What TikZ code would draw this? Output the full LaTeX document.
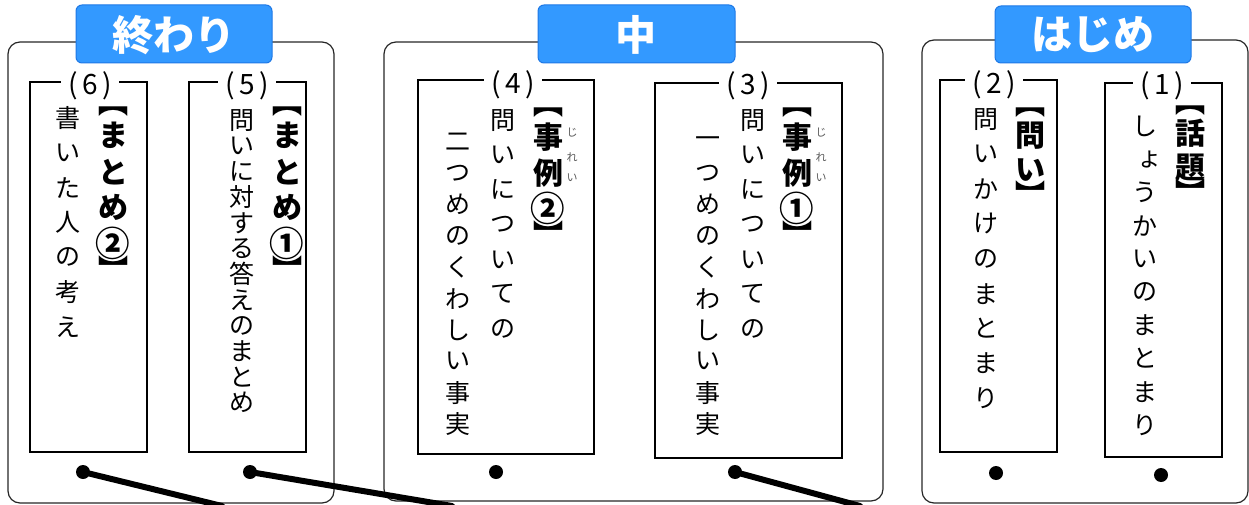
\documentclass[tikz,border=0pt]{standalone}
\usepackage{fontspec}
\newfontfamily\jp{Noto Sans CJK JP}
\definecolor{titlefill}{RGB}{51,153,255}
\definecolor{titleline}{RGB}{30,120,230}
\definecolor{rubygray}{RGB}{90,90,90}
\makeatletter
\def\tbo{︻}\def\tbc{︼}
\newcommand\tatecell[2]{\hbox to 1.1em{\hss\vbox to #1{\vss\hbox{#2}\vss}\hss}}
\newcommand\tate[2]{\vbox{\offinterlineskip\@tfor\tc:=#2\do{%
  \ifx\tc\tbo\tatecell{13pt}{\tc}\else\ifx\tc\tbc\tatecell{13pt}{\tc}\else\tatecell{#1}{\tc}\fi\fi}}}
\makeatother
\newcommand\circnum[1]{{\scalebox{1.15}{#1}}}
\tikzset{
  panel/.style={draw=black!85, line width=1.2pt, rounded corners=12pt},
  titlebox/.style={draw=titleline, fill=titlefill, line width=1pt, rounded corners=6pt},
  titletext/.style={text=white, font=\jp\bfseries\fontsize{41}{41}\selectfont, inner sep=0pt},
  card/.style={draw=black, line width=2pt},
  numlabel/.style={fill=white, inner xsep=7pt, inner ysep=0pt, font=\jp\fontsize{28}{28}\selectfont},
  headcol/.style={anchor=north, inner sep=0pt, font=\jp\bfseries\fontsize{30}{30}\selectfont},
  bodycol/.style={anchor=north, inner sep=0pt, font=\jp\fontsize{25}{25}\selectfont},
  ruby/.style={inner sep=0pt, text=rubygray, font=\jp\fontsize{11}{11}\selectfont},
  dot/.style={circle, fill=black, inner sep=0pt, minimum size=14pt},
  conn/.style={line width=6pt, line cap=round}
}
\begin{document}
\begin{tikzpicture}[x=1pt,y=-1pt]
\useasboundingbox (0,0) rectangle (1249,505);
% outer panels
\draw[panel] (8,42) rectangle (334,503);
\draw[panel] (384,42) rectangle (883,501);
\draw[panel] (922,40) rectangle (1248,503);
% title boxes
\draw[titlebox] (76,5) rectangle (272,63);
\node[titletext] (t1) at (174,35) {終わり};
\draw[titlebox] (538,5) rectangle (735,63);
\node[titletext] (t2) at (636,35) {中};
\draw[titlebox] (995,6) rectangle (1191,63);
\node[titletext] (t3) at (1093,35) {はじめ};
% cards
\draw[card] (30,82) rectangle (147,452);
\node[numlabel] (n6) at (90,86) {(\,6\,)};
\draw[card] (189,82) rectangle (306,452);
\node[numlabel] (n5) at (247,86) {(\,5\,)};
\draw[card] (418,80) rectangle (594,454);
\node[numlabel] (n4) at (513,85) {(\,4\,)};
\draw[card] (655,83) rectangle (842,458);
\node[numlabel] (n3) at (748,86) {(\,3\,)};
\draw[card] (940,80) rectangle (1057,452);
\node[numlabel] (n2) at (994,85) {(\,2\,)};
\draw[card] (1105,83) rectangle (1222,457);
\node[numlabel] (n1) at (1162,86) {(\,1\,)};
% headings
\node[headcol] (h6) at (113,104.5) {\tate{36pt}{︻まとめ{\circnum{②}}︼}};
\node[headcol] (h5) at (287,104.5) {\tate{36pt}{︻まとめ{\circnum{①}}︼}};
\node[headcol] (h4) at (548,105.5) {\tate{36pt}{︻事例{\circnum{②}}︼}};
\node[headcol] (h3) at (797,105.5) {\tate{36pt}{︻事例{\circnum{①}}︼}};
\node[headcol] (h2) at (1030,105.5) {\tate{34pt}{︻問い︼}};
\node[headcol] (h1) at (1190,103.5) {\tate{34pt}{︻話題︼}};
% ruby
\node[ruby] (r4a) at (572,133) {じ};
\node[ruby] (r4b) at (572,157) {れ};
\node[ruby] (r4c) at (572,178) {い};
\node[ruby] (r3a) at (821,133) {じ};
\node[ruby] (r3b) at (821,157) {れ};
\node[ruby] (r3c) at (821,178) {い};
% body text
\node[bodycol] (b6) at (68,100.6) {\tate{34.8pt}{書いた人の考え}};
\node[bodycol] (b5) at (242,107) {\tate{25.7pt}{問いに対する答えのまとめ}};
\node[bodycol] (b4a) at (503,102.6) {\tate{34.8pt}{問いについての}};
\node[bodycol] (b4b) at (458,126.3) {\tate{31.3pt}{二つめのくわしい事実}};
\node[bodycol] (b3a) at (753,102.6) {\tate{34.8pt}{問いについての}};
\node[bodycol] (b3b) at (708,126.3) {\tate{31.3pt}{一つめのくわしい事実}};
\node[bodycol] (b2) at (986,101.5) {\tate{34.9pt}{問いかけのまとまり}};
\node[bodycol] (b1) at (1145,109.4) {\tate{33.2pt}{し{\kern10pt ょ}うかいのまとまり}};
% dots
\node[dot] (d6) at (83,472) {};
\node[dot] (d5) at (250,472) {};
\node[dot] (d4) at (496,472) {};
\node[dot] (d3) at (735,472) {};
\node[dot] (d2) at (996,473) {};
\node[dot] (d1) at (1161,475) {};
% connectors
\coordinate (e6) at (222,506);
\coordinate (e5) at (452,506);
\coordinate (e3) at (860,506);
\draw[conn] (d6.center) -- (e6);
\draw[conn] (d5.center) -- (e5);
\draw[conn] (d3.center) -- (e3);
\end{tikzpicture}
\end{document}
